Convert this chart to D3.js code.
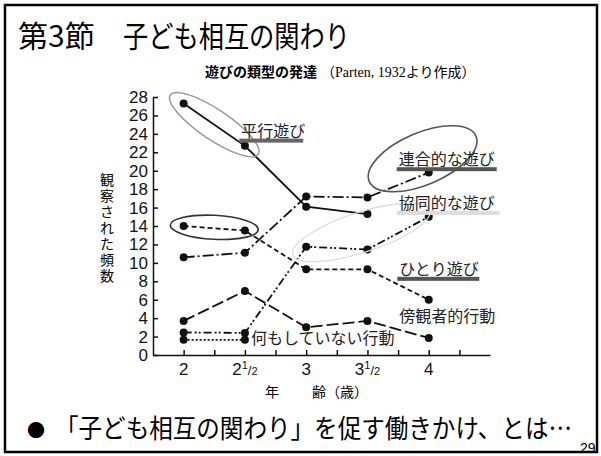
<!DOCTYPE html>
<html><head><meta charset="utf-8">
<script src="https://cdn.jsdelivr.net/npm/d3@7"></script>
<style>
html,body{margin:0;padding:0;background:#fff;}
svg{display:block;}
</style></head>
<body>
<svg id="c" width="601" height="456"></svg>
<script>
// ---- data ----
const ages = [2, 2.5, 3, 3.5, 4];
const parallelPlay   = [27.3, 22.7, 16.1, 15.3, null];   // 平行遊び
const associative    = [10.6, 11.1, 17.2, 17.1, 19.8];   // 連合的な遊び
const cooperative    = [2.45, 2.4, 11.75, 11.45, 15.0];  // 協同的な遊び
const solitary       = [14.0, 13.5, 9.3, 9.3, 6.0];      // ひとり遊び
const onlooker       = [3.7, 6.95, 3.0, 3.7, 1.85];      // 傍観者的行動
const unoccupied     = [1.65, 1.65, null, null, null];   // 何もしていない行動
const yTicks = [0,2,4,6,8,10,12,14,16,18,20,22,24,26,28];
const xMinorTicks = [2,2.25,2.5,2.75,3,3.25,3.5,3.75,4,4.25];
const xTickLabels = [["2",""],["2","1/2"],["3",""],["3","1/2"],["4",""]];

const svg = d3.select("#c");
const jp = "'Noto Sans CJK JP', sans-serif";
const x = d3.scaleLinear().domain([1.75, 4.5]).range([153, 490]);
const y = d3.scaleLinear().domain([0, 28]).range([355, 97]);

// slide frame
svg.append("rect").attr("x",5).attr("y",5).attr("width",592).attr("height",447)
  .attr("fill","none").attr("stroke","#000").attr("stroke-width",2.5);

// titles
svg.append("text").attr("x",18).attr("y",47).attr("font-family",jp).attr("font-size",30).text("第3節");
svg.append("text").attr("x",123).attr("y",47).attr("font-family",jp).attr("font-size",30)
  .attr("textLength",227).attr("lengthAdjust","spacingAndGlyphs").text("子ども相互の関わり");
const sub = svg.append("text").attr("x",205).attr("y",77).attr("font-size",14);
sub.append("tspan").attr("font-family",jp).attr("font-weight","bold").text("遊びの類型の発達");
sub.append("tspan").attr("font-family","'Liberation Serif', 'Noto Sans CJK JP', serif").attr("dx",4).text("（Parten, 1932より作成）");

// axes
const yAxis = d3.axisLeft(y).tickValues(yTicks).tickSizeInner(-5).tickSizeOuter(0).tickPadding(5);
const gy = svg.append("g").attr("transform",`translate(${x(1.75)},0)`).call(yAxis);
gy.selectAll("text").attr("font-family","'Liberation Sans', Arial, sans-serif").attr("font-size",17).attr("fill","#111");
const xAxis = d3.axisBottom(x).tickValues(xMinorTicks).tickSizeInner(-5).tickSizeOuter(0).tickFormat("");
const gx = svg.append("g").attr("transform",`translate(0,${y(0)})`).call(xAxis);
svg.selectAll(".domain, .tick line").attr("stroke","#111").attr("stroke-width",1.5);

const xl = svg.append("g");
ages.forEach((a,i)=>{
  const t = xl.append("text").attr("x",x(a)).attr("y",y(0)+20).attr("text-anchor","middle")
    .attr("font-family","'Liberation Sans', Arial, sans-serif").attr("font-size",17).attr("fill","#111");
  t.append("tspan").text(xTickLabels[i][0]);
  if (xTickLabels[i][1]) {
    t.append("tspan").attr("font-size",11).attr("dy",-6).text("1");
    t.append("tspan").attr("font-size",13).attr("dy",6).text("/");
    t.append("tspan").attr("font-size",11).text("2");
  }
});
svg.append("text").attr("x",265).attr("y",397).attr("font-family",jp).attr("font-size",14).text("年");
svg.append("text").attr("x",312).attr("y",397).attr("font-family",jp).attr("font-size",14).text("齢（歳）");

// y label vertical (one glyph per text element)
"観察された頻数".split("").forEach((ch,i)=>{
  svg.append("text").attr("font-family",jp).attr("font-size",14).attr("text-anchor","middle")
    .attr("x",107).attr("y",185+i*16).text(ch);
});

// series
const series = [
  {v: parallelPlay, dash: null},
  {v: associative, dash: "11,3,2,3"},
  {v: cooperative, dash: "8,3,2,2,2,3"},
  {v: solitary, dash: "5,3"},
  {v: onlooker, dash: "12,4"},
  {v: unoccupied, dash: "2,2"}
];
const line = d3.line().defined(d=>d[1]!=null).x(d=>x(d[0])).y(d=>y(d[1]));
series.forEach(s=>{
  const pts = ages.map((a,i)=>[a, s.v[i]]);
  svg.append("path").attr("d", line(pts)).attr("fill","none").attr("stroke","#111")
    .attr("stroke-width",1.8).attr("stroke-dasharray", s.dash);
  svg.selectAll(null).data(pts.filter(p=>p[1]!=null)).enter().append("circle")
    .attr("cx",d=>x(d[0])).attr("cy",d=>y(d[1])).attr("r",4).attr("fill","#111");
});

// highlight ellipses (anchored on data)
function ell(cx, cy, rx, ry, rot, col, w){
  svg.append("ellipse").attr("cx",0).attr("cy",0).attr("rx",rx).attr("ry",ry)
    .attr("transform",`translate(${cx},${cy}) rotate(${rot})`)
    .attr("fill","none").attr("stroke",col).attr("stroke-width",w);
}
ell((x(2)+x(2.5))/2, (y(parallelPlay[0])+y(parallelPlay[1]))/2, 53, 15, 34, "#999", 1.5);
ell((x(2)+x(2.5))/2, (y(solitary[0])+y(solitary[1]))/2 - 1, 44, 12, 3, "#333", 1.6);
ell(x(3.95), y(21.3), 58, 26, -23, "#555", 1.6);
ell(x(3.45), y(13.3), 72, 20, -18, "#ddd", 1.3);

// labels
const labels = [
  {t:"平行遊び", ax:2.47, ay:23.7, ul:"#666", w:64},
  {t:"連合的な遊び", ax:3.755, ay:20.6, ul:"#555", w:100},
  {t:"協同的な遊び", ax:3.755, ay:15.85, ul:"#ddd", w:103},
  {t:"ひとり遊び", ax:3.76, ay:8.7, ul:"#555", w:82},
  {t:"傍観者的行動", ax:3.76, ay:3.55, ul:null},
  {t:"何もしていない行動", ax:2.55, ay:1.2, ul:null}
];
labels.forEach(l=>{
  svg.append("text").attr("x",x(l.ax)).attr("y",y(l.ay)).attr("font-family",jp).attr("font-size",16)
    .attr("fill","#222").text(l.t);
  if (l.ul) svg.append("rect").attr("x",x(l.ax)-2).attr("y",y(l.ay)+2).attr("width",l.w).attr("height",4).attr("fill",l.ul);
});

// bottom text
svg.append("text").attr("x",27).attr("y",437).attr("font-family",jp).attr("font-size",18).text("●");
svg.append("text").attr("x",55).attr("y",438).attr("font-family",jp).attr("font-size",26)
  .attr("textLength",517).attr("lengthAdjust","spacingAndGlyphs").text("「子ども相互の関わり」を促す働きかけ、とは…");
svg.append("text").attr("x",580).attr("y",453).attr("font-family","'Liberation Sans', Arial, sans-serif").attr("font-size",14).text("29");
</script>
</body></html>
